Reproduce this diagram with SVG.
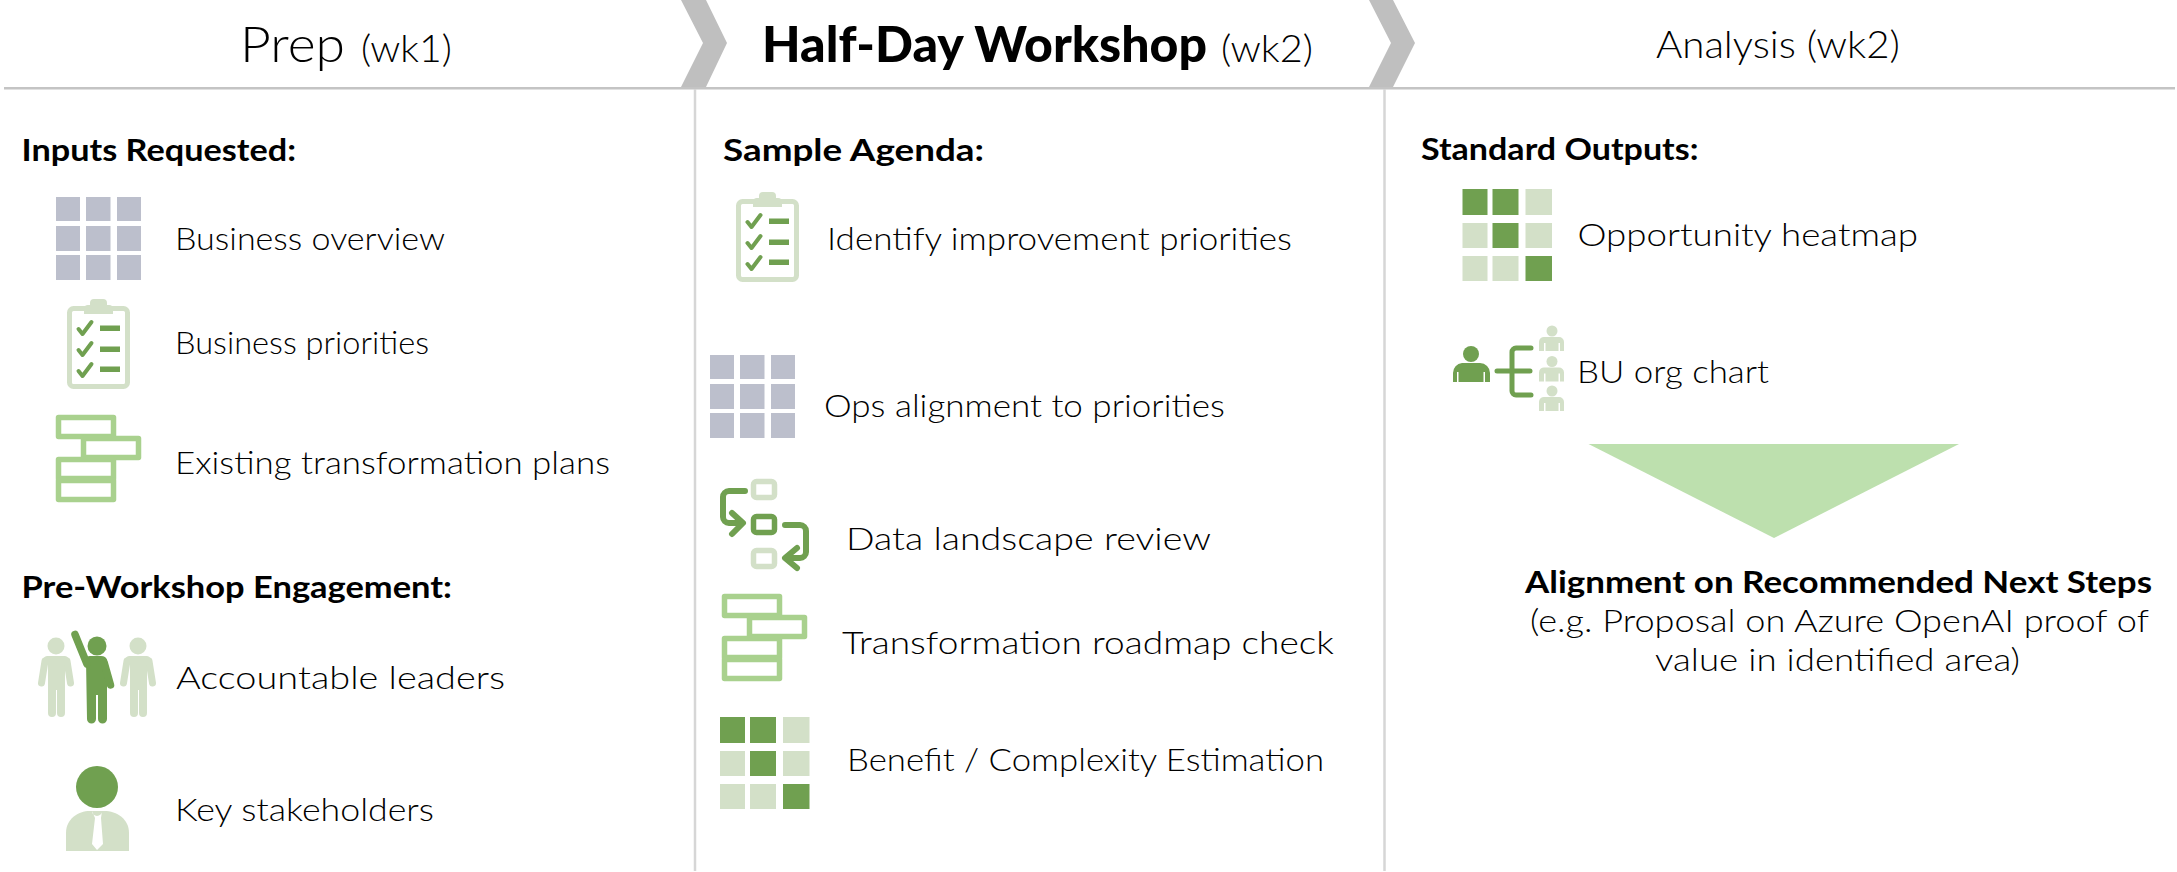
<svg xmlns="http://www.w3.org/2000/svg" width="2177" height="872" viewBox="0 0 2177 872">
<style>
text{font-family:Lato,"Noto Sans","Liberation Sans",sans-serif;fill:#000}
.t{font-size:32px;font-weight:300}
.b{font-size:31px;font-weight:700}
.h{font-size:50px;font-weight:300}
.hb{font-size:49px;font-weight:900}
.s{font-size:37px;font-weight:300}
.a{font-size:38px;font-weight:300}
.grid{fill:#bcbfcc}
.dk{fill:#70a050}
.lt{fill:#d3e0c8}
.gantt{fill:#fff;stroke:#a9d18e;stroke-width:5.500;stroke-linejoin:round}
.chev{fill:#bfbfbf}
.rule{stroke:#c4c4c4;stroke-width:2.500;fill:none}
.vr{stroke:#d6d6d6;stroke-width:2.500;fill:none}
.fl{fill:none;stroke:#70a050;stroke-width:6;stroke-linecap:round;stroke-linejoin:round}
.dkl{fill:none;stroke:#70a050;stroke-linecap:round;stroke-linejoin:round}
</style>
<defs>
<g id="i-grid" class="grid">
<rect x="56" y="197" width="24" height="24"/><rect x="86" y="197" width="24.500" height="24"/><rect x="117" y="197" width="24" height="24"/>
<rect x="56" y="226" width="24" height="25"/><rect x="86" y="226" width="24.500" height="25"/><rect x="117" y="226" width="24" height="25"/>
<rect x="56" y="255" width="24" height="25"/><rect x="86" y="255" width="24.500" height="25"/><rect x="117" y="255" width="24" height="25"/>
</g>
<g id="i-clip">
<rect x="69.500" y="308.500" width="58" height="78" rx="4" fill="#fff" stroke="#d3e0c8" stroke-width="5"/>
<path class="lt" d="M84 314v-6a4 4 0 0 1 4-3h2v-2a4 4 0 0 1 4-4h9a4 4 0 0 1 4 4v2h2a4 4 0 0 1 4 4v5z"/>
<path class="dkl" stroke-width="4" d="M78.500 329l4 5 9-12M78.500 350l4 5 9-12M78.500 371l4 5 9-12"/>
<rect class="dk" x="100" y="325.500" width="20" height="5.500"/><rect class="dk" x="100" y="346.500" width="20" height="5.500"/><rect class="dk" x="100" y="366.500" width="20" height="5.500"/>
</g>
<g id="i-gantt">
<rect class="gantt" x="58.500" y="417.500" width="55" height="19"/>
<rect class="gantt" x="83.500" y="438.500" width="55" height="19"/>
<rect class="gantt" x="58.500" y="459.500" width="55" height="19"/>
<rect class="gantt" x="58.500" y="480.500" width="55" height="19"/>
</g>
<g id="i-heat">
<rect class="dk" x="720" y="717" width="25" height="26"/><rect class="dk" x="750" y="717" width="26" height="26"/><rect class="lt" x="783" y="717" width="26.500" height="26"/>
<rect class="lt" x="720" y="751" width="25" height="25"/><rect class="dk" x="750" y="751" width="26" height="25"/><rect class="lt" x="783" y="751" width="26.500" height="25"/>
<rect class="lt" x="720" y="784" width="25" height="25"/><rect class="lt" x="750" y="784" width="26" height="25"/><rect class="dk" x="783" y="784" width="26.500" height="25"/>
</g>
<g id="i-man">
<circle class="lt" cx="56" cy="646" r="8.500"/>
<path class="lt" d="M47.500 656H64.500Q68 656 69 660H43Q44 656 47.500 656zM48 659H65V688.500H65V713a4 4 0 0 1-8 0V690H56V713a4 4 0 0 1-8 0z"/>
<path d="M45 661L41.500 683M67 661L70.500 683" fill="none" stroke="#d3e0c8" stroke-width="7" stroke-linecap="round"/>
</g>
<g id="i-sub" class="lt">
<circle cx="1552" cy="331" r="5.500"/>
<path d="M1545 337h14a5 5 0 0 1 5 5v9h-4v-8h-1.500v8h-13v-8h-1.500v8h-5v-9a5 5 0 0 1 6-5z"/>
</g>
</defs>
<g id="header">
<path class="rule" d="M4 88.300H2175"/>
<path class="vr" d="M695 89V871M1384.500 89V871"/>
<polygon class="chev" points="681,0 706,0 727,43 706,87 681,87 703,43"/>
<polygon class="chev" points="1369,0 1393,0 1415,43 1393,87 1369,87 1391,43"/>
<text class="h" x="240" y="62" textLength="105" lengthAdjust="spacingAndGlyphs">Prep</text>
<text class="s" x="361" y="62" textLength="91" lengthAdjust="spacingAndGlyphs">(wk1)</text>
<text class="hb" x="762" y="62" textLength="445" lengthAdjust="spacingAndGlyphs">Half-Day Workshop</text>
<text class="s" x="1221" y="62" textLength="92" lengthAdjust="spacingAndGlyphs">(wk2)</text>
<text class="a" x="1656" y="58" textLength="244" lengthAdjust="spacingAndGlyphs">Analysis (wk2)</text>
</g>
<g id="connectors"></g>
<g id="col-prep">
<text class="b" x="21.500" y="160.500" textLength="274.500" lengthAdjust="spacingAndGlyphs">Inputs Requested:</text>
<g id="n-business-overview"><use href="#i-grid"/><text class="t" x="175" y="250" textLength="270" lengthAdjust="spacingAndGlyphs">Business overview</text></g>
<g id="n-business-priorities"><use href="#i-clip"/><text class="t" x="175" y="354" textLength="254" lengthAdjust="spacingAndGlyphs">Business priorities</text></g>
<g id="n-existing-plans"><use href="#i-gantt"/><text class="t" x="175" y="474" textLength="435" lengthAdjust="spacingAndGlyphs">Existing transformation plans</text></g>
<text class="b" x="21.500" y="598" textLength="430.500" lengthAdjust="spacingAndGlyphs">Pre-Workshop Engagement:</text>
<g id="n-leaders">
<use href="#i-man"/><use href="#i-man" x="82"/>
<g class="dk"><circle cx="97" cy="646" r="9.500"/>
<path d="M86 660Q86 656 90 656H101Q106 656 107 660V694H107V719a4.500 4.500 0 0 1-9 0V695H96V719a4.500 4.500 0 0 1-9 0z"/></g>
<path d="M75 634.500L87 664M104 662L110.500 685" fill="none" stroke="#70a050" stroke-width="7.500" stroke-linecap="round"/>
<text class="t" x="176" y="689" textLength="329" lengthAdjust="spacingAndGlyphs">Accountable leaders</text>
</g>
<g id="n-stakeholders">
<circle class="dk" cx="97" cy="787" r="21"/>
<path class="lt" d="M66 851v-18c0-14 12-22 24-22h14c13 0 25 8 25 22v18z"/>
<path fill="#fff" d="M92 811a5 5 0 0 0 10 0l-1 7 2 26-6 6-5-6 3-26z"/>
<text class="t" x="175" y="821" textLength="259" lengthAdjust="spacingAndGlyphs">Key stakeholders</text>
</g>
</g>
<g id="col-workshop">
<text class="b" x="723" y="160.500" textLength="261" lengthAdjust="spacingAndGlyphs">Sample Agenda:</text>
<g id="n-identify"><use href="#i-clip" x="669" y="-107"/><text class="t" x="827" y="250" textLength="465" lengthAdjust="spacingAndGlyphs">Identify improvement priorities</text></g>
<g id="n-ops"><use href="#i-grid" x="654" y="158"/><text class="t" x="824" y="417" textLength="401" lengthAdjust="spacingAndGlyphs">Ops alignment to priorities</text></g>
<g id="n-data">
<rect x="753.500" y="481.500" width="21" height="16" rx="3" fill="#fff" stroke="#d3e0c8" stroke-width="5.500"/>
<rect x="753.500" y="516.500" width="21" height="16" rx="3" fill="#fff" stroke="#70a050" stroke-width="5.500"/>
<rect x="753.500" y="550.500" width="21" height="16" rx="3" fill="#fff" stroke="#d3e0c8" stroke-width="5.500"/>
<path class="fl" d="M745 491H729a6 6 0 0 0-6 6V517a6 6 0 0 0 6 6H741M732 513l11 10-11 11"/>
<path class="fl" d="M785 525H800a6 6 0 0 1 6 6V552a6 6 0 0 1-6 6H786M797 548l-12 10 12 10"/>
<text class="t" x="846" y="550" textLength="365" lengthAdjust="spacingAndGlyphs">Data landscape review</text>
</g>
<g id="n-roadmap"><use href="#i-gantt" x="666" y="179"/><text class="t" x="842" y="654" textLength="492" lengthAdjust="spacingAndGlyphs">Transformation roadmap check</text></g>
<g id="n-benefit"><use href="#i-heat"/><text class="t" x="847" y="771" textLength="477" lengthAdjust="spacingAndGlyphs">Benefit / Complexity Estimation</text></g>
</g>
<g id="col-analysis">
<text class="b" x="1421" y="159.500" textLength="277.500" lengthAdjust="spacingAndGlyphs">Standard Outputs:</text>
<g id="n-heatmap"><use href="#i-heat" x="742.500" y="-528"/><text class="t" x="1577.500" y="246" textLength="340.500" lengthAdjust="spacingAndGlyphs">Opportunity heatmap</text></g>
<g id="n-org">
<circle class="dk" cx="1471" cy="354" r="8"/>
<path class="dk" d="M1462 363h18a10 10 0 0 1 10 10v9h-5v-10h-1.500v10h-25v-10h-1.500v10h-4v-9a10 10 0 0 1 9-10z"/>
<path class="dkl" stroke-width="5" d="M1497 371H1530M1531 348H1516a4 4 0 0 0-4 4V391a4 4 0 0 0 4 4H1531"/>
<use href="#i-sub"/><use href="#i-sub" y="30.500"/><use href="#i-sub" y="60"/>
<text class="t" x="1577" y="383" textLength="192" lengthAdjust="spacingAndGlyphs">BU org chart</text>
</g>
<g id="n-alignment">
<polygon points="1588.500,444 1959,444 1774,538" fill="#bde0ae"/>
<text class="b" x="1525" y="593" textLength="627" lengthAdjust="spacingAndGlyphs">Alignment on Recommended Next Steps</text>
<text class="t" x="1530" y="632" textLength="619" lengthAdjust="spacingAndGlyphs">(e.g. Proposal on Azure OpenAI proof of</text>
<text class="t" x="1655" y="671" textLength="365" lengthAdjust="spacingAndGlyphs">value in identified area)</text>
</g>
</g>
</svg>
